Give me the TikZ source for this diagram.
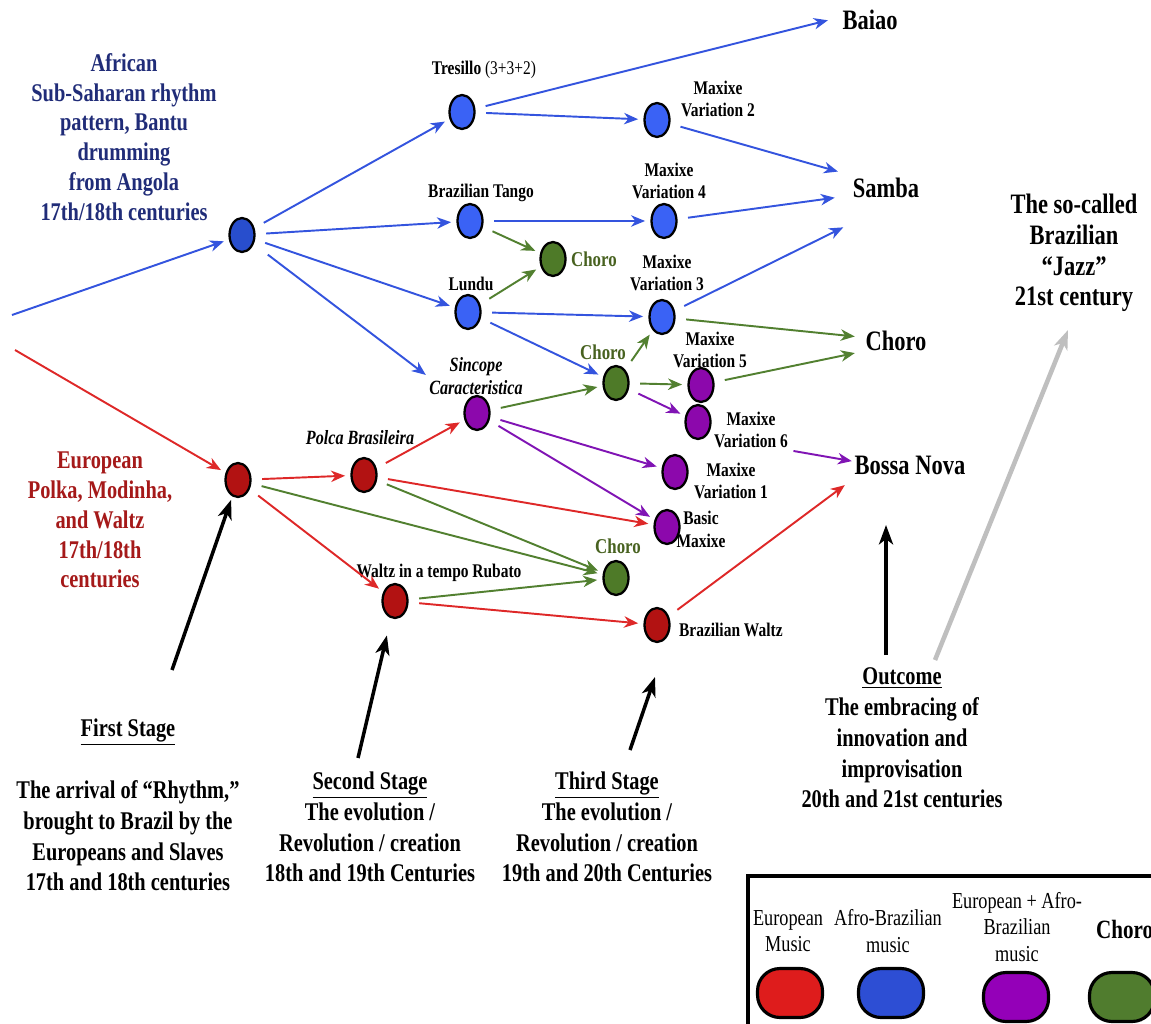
\documentclass[tikz,border=0pt]{standalone}
\usepackage{fontspec}
\setmainfont{Liberation Serif}[FakeStretch=0.8]
\usetikzlibrary{arrows.meta,shapes.geometric}
\definecolor{afroblue}{RGB}{52,84,222}
\definecolor{dotblue}{RGB}{58,98,245}
\definecolor{hubblue}{RGB}{40,78,205}
\definecolor{eurored}{RGB}{222,40,40}
\definecolor{dotred}{RGB}{178,18,18}
\definecolor{chorogreen}{RGB}{82,128,48}
\definecolor{dotgreen}{RGB}{78,122,40}
\definecolor{mixpurple}{RGB}{128,20,180}
\definecolor{dotpurple}{RGB}{140,8,172}
\definecolor{titleblue}{RGB}{32,44,120}
\definecolor{titlered}{RGB}{165,25,25}
\definecolor{labelgreen}{RGB}{72,98,32}
\definecolor{legred}{RGB}{222,28,28}
\definecolor{legblue}{RGB}{45,78,212}
\definecolor{legpurple}{RGB}{148,0,184}
\definecolor{leggreen}{RGB}{80,124,46}
\tikzset{
  dot/.style={ellipse,draw=black,line width=1.3pt,minimum width=0.5cm,minimum height=0.68cm,inner sep=0pt},
  bluedot/.style={dot,fill=dotblue},
  reddot/.style={dot,fill=dotred},
  greendot/.style={dot,fill=dotgreen},
  purpledot/.style={dot,fill=dotpurple},
  lbl/.style={font=\fontsize{11}{13}\selectfont\bfseries,align=center,inner sep=1pt},
  greenlbl/.style={lbl,text=labelgreen,font=\fontsize{12}{13}\selectfont\bfseries},
  title/.style={font=\fontsize{14.5}{17}\selectfont\bfseries,align=center},
  endlbl/.style={font=\fontsize{16}{17.5}\selectfont\bfseries,align=center},
  stage/.style={font=\fontsize{14.5}{17.5}\selectfont\bfseries,align=center},
  legtext/.style={font=\fontsize{13}{15}\selectfont,align=center},
  link/.style={line width=1.1pt,-{Stealth[length=8pt,width=6.5pt,inset=2.5pt]},shorten <=6pt,shorten >=3pt},
  bluelink/.style={link,draw=afroblue},
  redlink/.style={link,draw=eurored},
  greenlink/.style={link,draw=chorogreen},
  purplelink/.style={link,draw=mixpurple},
  stagearrow/.style={line width=2pt,draw=black,-{Stealth[length=11pt,width=8pt,inset=3pt]}},
  pill/.style={rectangle,rounded corners=0.45cm,draw=black,line width=1.8pt,minimum width=1.3cm,minimum height=0.98cm}
}
\begin{document}
\begin{tikzpicture}[x=0.02cm,y=-0.02cm]
\useasboundingbox (0,0) rectangle (1151,1023);
\clip (0,0) rectangle (1151,1023);

% origins
\node[title,text=titleblue] (afrT) at (124,137) {African\\Sub-Saharan rhythm\\pattern, Bantu\\drumming\\from Angola\\17th/18th centuries};
\node[title,text=titlered] (eurT) at (100,520) {European\\Polka, Modinha,\\and Waltz\\17th/18th\\centuries};
\coordinate (afrIn) at (12,315);
\coordinate (eurIn) at (15,350);

% dots
\node[dot,fill=hubblue] (afr) at (242,235) {};
\node[reddot] (eur) at (238,480) {};
\node[bluedot] (tres) at (462,112) {};
\node[bluedot] (tango) at (470,221) {};
\node[bluedot] (lundu) at (468,312) {};
\node[purpledot] (sinc) at (477,413) {};
\node[reddot] (polca) at (364,475) {};
\node[reddot] (rubato) at (395,601) {};
\node[greendot] (choroA) at (553,259) {};
\node[bluedot] (maxB) at (657,120) {};
\node[bluedot] (maxD) at (664,221) {};
\node[bluedot] (maxC) at (662,317) {};
\node[greendot] (choroB) at (616,383) {};
\node[purpledot] (maxE) at (701,385) {};
\node[purpledot] (maxF) at (698,422) {};
\node[purpledot] (maxA) at (675,472) {};
\node[purpledot] (basic) at (667,527) {};
\node[greendot] (choroC) at (616,578) {};
\node[reddot] (bwaltz) at (657,625) {};

% dot labels
\node[lbl] (tresT) at (484,70) {Tresillo {\mdseries (3+3+2)}};
\node[lbl] (maxBT) at (718,99) {Maxixe\\Variation 2};
\node[lbl] (tangoT) at (481,193) {Brazilian Tango};
\node[lbl] (maxDT) at (669,181) {Maxixe\\Variation 4};
\node[greenlbl,anchor=west] (choroAT) at (569,259) {Choro};
\node[lbl] (lunduT) at (471,284) {Lundu};
\node[lbl] (maxCT) at (667,273) {Maxixe\\Variation 3};
\node[greenlbl] (choroBT) at (603,352) {Choro};
\node[lbl] (maxET) at (710,350) {Maxixe\\Variation 5};
\node[lbl,font=\fontsize{11.5}{13}\selectfont\bfseries\itshape] (sincT) at (476,376) {Sincope\\Caracteristica};
\node[lbl] (maxFT) at (751,430) {Maxixe\\Variation 6};
\node[lbl,font=\fontsize{11.5}{13}\selectfont\bfseries\itshape] (polcaT) at (360,438) {Polca Brasileira};
\node[lbl] (maxAT) at (731,481) {Maxixe\\Variation 1};
\node[lbl] (basicT) at (701,529) {Basic\\Maxixe};
\node[greenlbl] (choroCT) at (618,546) {Choro};
\node[lbl] (rubatoT) at (439,573) {Waltz in a tempo Rubato};
\node[lbl,anchor=west] (bwaltzT) at (677,630) {Brazilian Waltz};

% outcomes
\node[endlbl] (baiao) at (870,20) {Baiao};
\node[endlbl] (samba) at (886,188) {Samba};
\node[endlbl] (choro) at (896,341) {Choro};
\node[endlbl] (bossa) at (910,465) {Bossa Nova};
\node[endlbl] (jazz) at (1074,253) {The so-called\\Brazilian\\“Jazz”\\21st century};
\coordinate (baiaoIn) at (833,19);
\coordinate (sambaInA) at (843,173);
\coordinate (sambaInB) at (840,197);
\coordinate (sambaInC) at (848,225);
\coordinate (choroInA) at (860,337);
\coordinate (choroInB) at (860,352);
\coordinate (bossaInA) at (857,462);
\coordinate (bossaInB) at (849,482);

% blue links
\draw[bluelink,shorten <=0pt] (afrIn) -- (afr);
\draw[bluelink] (afr) -- (tres);
\draw[bluelink] (afr) -- (tango);
\draw[bluelink] (afr) -- (lundu);
\draw[bluelink,shorten <=10pt,shorten >=1pt] (afr) -- (sincT.west);
\draw[bluelink] (tres) -- (baiaoIn);
\draw[bluelink] (tres) -- (maxB);
\draw[bluelink] (maxB) -- (sambaInA);
\draw[bluelink] (tango) -- (maxD);
\draw[bluelink] (maxD) -- (sambaInB);
\draw[bluelink] (lundu) -- (maxC);
\draw[bluelink] (lundu) -- (choroB);
\draw[bluelink] (maxC) -- (sambaInC);

% green links
\draw[greenlink] (tango) -- (choroA);
\draw[greenlink] (lundu) -- (choroA);
\draw[greenlink] (sinc) -- (choroB);
\draw[greenlink] (choroB) -- (maxC);
\draw[greenlink] (choroB) -- (maxE);
\draw[greenlink] (maxC) -- (choroInA);
\draw[greenlink] (maxE) -- (choroInB);
\draw[greenlink] (eur) -- (choroC);
\draw[greenlink] (polca) -- (choroC);
\draw[greenlink] (rubato) -- (choroC);

% purple links
\draw[purplelink] (choroB) -- (maxF);
\draw[purplelink] (sinc) -- (maxA);
\draw[purplelink] (sinc) -- (basic);
\draw[purplelink,shorten <=2pt] (maxFT.south east) -- (bossaInA);

% red links
\draw[redlink,shorten <=0pt] (eurIn) -- (eur);
\draw[redlink] (eur) -- (polca);
\draw[redlink] (eur) -- (rubato);
\draw[redlink] (polca) -- (sinc);
\draw[redlink] (polca) -- (basic);
\draw[redlink] (rubato) -- (bwaltz);
\draw[redlink] (bwaltz) -- (bossaInB);

% stages
\node[stage] (firstT) at (128,732) {\underline{First Stage}};
\node[stage] (firstD) at (128,836) {The arrival of “Rhythm,”\\brought to Brazil by the\\Europeans and Slaves\\17th and 18th centuries};
\node[stage] (secondT) at (370,827) {\underline{Second Stage}\\The evolution /\\Revolution / creation\\18th and 19th Centuries};
\node[stage] (thirdT) at (607,827) {\underline{Third Stage}\\The evolution /\\Revolution / creation\\19th and 20th Centuries};
\node[stage] (outT) at (902,738) {\underline{Outcome}\\The embracing of\\innovation and\\improvisation\\20th and 21st centuries};
\coordinate (firstS) at (172,670);
\coordinate (secondS) at (358,758);
\coordinate (thirdS) at (630,750);
\coordinate (thirdE) at (655,677);
\coordinate (outS) at (886,655);
\coordinate (outE) at (886,525);
\coordinate (jazzS) at (935,660);
\coordinate (jazzE) at (1068,330);
\draw[stagearrow,shorten >=2pt] (firstS) -- (eur);
\draw[stagearrow,shorten >=10pt] (secondS) -- (rubato);
\draw[stagearrow] (thirdS) -- (thirdE);
\draw[stagearrow] (outS) -- (outE);
\draw[stagearrow,draw=black!25,line width=2.6pt] (jazzS) -- (jazzE);

% legend
\draw[line width=2.5pt] (748,876) rectangle (1175,1045);
\node[legtext] (legEurT) at (788,931) {European\\Music};
\node[legtext] (legAfrT) at (888,931) {Afro-Brazilian\\music};
\node[legtext] (legMixT) at (1017,927) {European + Afro-\\Brazilian\\music};
\node[legtext,font=\fontsize{15}{17}\selectfont\bfseries,anchor=west] (legChoT) at (1090,929) {Choro};
\node[pill,fill=legred] (legEur) at (790,993) {};
\node[pill,fill=legblue] (legAfr) at (891,993) {};
\node[pill,fill=legpurple] (legMix) at (1016,997) {};
\node[pill,fill=leggreen] (legCho) at (1122,997) {};
\end{tikzpicture}
\end{document}
